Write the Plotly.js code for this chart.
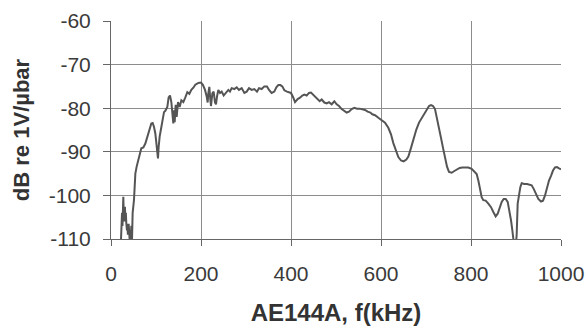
<!DOCTYPE html>
<html>
<head>
<meta charset="utf-8">
<script src="https://cdn.plot.ly/plotly-3.0.1.min.js"></script>
<style>html,body{margin:0;padding:0;background:#fff;}#chart{width:588px;height:326px;}</style>
</head>
<body>
<div id="chart"></div>
<script>
// Frequency (kHz)
var freq = [
  21.5, 22.5, 23.5, 24.5, 25.5, 26.5, 27.4, 28.2, 28.9, 30, 31, 32, 33, 34, 35.5, 36.3, 37.5, 39.3, 40.5, 41.5, 42.5, 43.7, 45.2, 46.5, 48.1,
  51.1, 52.6, 54.1, 57.0, 60.0, 64.4, 67.4, 71.9, 76.3, 80.7, 85.2, 89.6, 92.6, 95.6, 98.5, 100.7, 103, 104.4, 105.9, 108.1,
  111.9, 114.8, 117.8, 120.7, 125.2, 128.1, 131.1, 134.1, 137, 138.5, 140, 141.5, 143.7, 145.9, 148.9, 152.6, 156.3, 160.7,
  165.2, 169.6, 174.1, 178.5, 183, 187.4, 194.1, 200, 204.4, 208.9, 212.6, 214.8, 216.3, 218.5, 220.7, 222.2, 225.2, 228.1,
  231.1, 233.3, 235.6, 238.5, 242.2, 245.9, 250.4, 254.8, 260.7, 264.4, 268.1, 274.1, 279.3, 284.4, 290.4, 296.3, 301.5,
  306.7, 312.6, 318.5, 324.4, 328.9, 334.8, 340.7, 346.7, 351.1, 357, 362.9, 367.4, 371.9, 376.3, 380.7, 385.2, 391.1, 397,
  400, 405.2, 408.9, 414.8, 420, 425.2, 429.6, 434.8, 440, 444.4, 449.6, 454.8, 459.3, 463.7, 468.1, 474.1, 479.3, 484.4,
  490.4, 496.3, 501.5, 506.7, 512.6, 518.5, 523.7, 528.9, 534.8, 540.7, 546.7, 552.6, 558.5, 564.4, 570.4, 576.3, 580.7,
  586.7, 594.1, 601.5, 608.9, 616.3, 622.2, 627.4, 632.6, 638.5, 644.5, 650.4, 656.3, 660.8, 666.7, 672.6, 678.5, 684.5,
  690.4, 696.3, 701.5, 706.7, 711.1, 715.6, 720, 724.5, 728.9, 733.3, 737.8, 742.2, 746.7, 751.1, 757.1, 763, 768.9,
  774.8, 780.7, 786.7, 794.1, 801.5, 807.4, 812.6, 816.3, 820, 823.7, 827.4, 832.6, 838.5, 844.5, 849.6, 854.8, 859.3,
  863.7, 868.2, 872.6, 877.1, 881.5, 885.2, 888.9, 891.9, 894.1, 896.3, 899.3, 901.5, 903.7, 906.7, 909.6, 912.6, 918.5,
  924.5, 930.4, 934.8, 939.3, 943.7, 949.6, 955.6, 960, 964.5, 968.9, 973.3, 977.8, 982.2, 986.7, 991.1, 995.6, 1000
];
// Sensitivity (dB re 1V/µbar)
var sensitivity = [
  -112, -106, -109, -104, -107, -101, -100.3, -104, -103.3, -106, -102.6, -106, -104, -106.4, -108, -106.5, -109, -106.5, -111, -109.4, -112, -110, -107, -111, -104,
  -101, -98.7, -95, -93.4, -91.9, -90.4, -89.2, -89, -88.1, -86.6, -85, -83.5, -83.4, -84.3, -85.8, -87.5, -90.4, -91.5, -88.9, -86.5,
  -84.3, -82, -80.9, -80.6, -79.7, -77.5, -77.1, -78.6, -81.3, -83.5, -80.5, -83.2, -79.2, -82, -78.6, -79.7, -78.2, -78.6,
  -77.5, -76.3, -76.7, -75.8, -75.3, -74.6, -74.2, -74.1, -74.7, -75.8, -77.3, -78.7, -76.6, -75.1, -78, -79.5, -76.6, -76.2,
  -78.7, -79.1, -77.3, -75.8, -76.5, -76.2, -77.1, -76.5, -75.8, -76.2, -75.4, -75.6, -75.2, -75.8, -75.4, -76.5, -76.2,
  -75.4, -75.8, -75.6, -76.2, -75.4, -75.6, -75, -75, -75.8, -76.5, -76.2, -75.2, -74.7, -74.7, -75, -75.9, -76.2, -76.5,
  -76.5, -77.6, -78.6, -77.9, -77.6, -77.1, -76.9, -77.1, -76.5, -76.4, -76.9, -77.6, -77.9, -78.4, -78, -78.7, -78.9, -78.6,
  -79.1, -78.4, -79.1, -79.5, -80.2, -80.6, -81, -80.8, -80.2, -79.9, -80.1, -80.1, -80.2, -80.4, -80.8, -81, -81.4,
  -81.6, -82.2, -82.7, -83.3, -84.5, -86, -88, -89.7, -91.2, -92, -92.2, -91.8, -91.1, -89.1, -86.8, -84.9, -83.3,
  -82.2, -81.4, -80.2, -79.5, -79.3, -79.5, -80.2, -82.2, -84.5, -86.8, -89.1, -91.5, -93.4, -94.6, -94.8, -94.4, -94,
  -93.7, -93.6, -93.6, -93.6, -93.9, -94.5, -95.1, -96.6, -98.5, -100.4, -101.1, -101.2, -101.9, -102.7, -103.8, -104.8, -104.2,
  -102.7, -101.5, -100.8, -100.8, -101.5, -103.4, -105.7, -108, -110, -112, -112, -109, -101.9, -99.2, -98.1, -97.2, -97.4,
  -97.4, -97.5, -97.7, -98.5, -99.6, -100.8, -101.4, -101.2, -100, -98.1, -96.6, -95.5, -94.3, -93.6, -93.5, -93.8, -94
];
var xTicks = [0, 200, 400, 600, 800, 1000];
var yTicks = [-110, -100, -90, -80, -70, -60];

var fam = 'Arial, "Liberation Sans", sans-serif';
var tickFont = {family: fam, size: 21, color: '#3a3a3a'};

Plotly.newPlot('chart', [{
  x: freq, y: sensitivity, type: 'scatter', mode: 'lines',
  line: {color: '#555555', width: 2}, hoverinfo: 'none'
}], {
  width: 588, height: 326,
  margin: {l: 111, r: 27, t: 21, b: 87, pad: 0},
  paper_bgcolor: '#ffffff', plot_bgcolor: '#ffffff',
  showlegend: false,
  xaxis: {
    range: [0, 1000], tickvals: xTicks, ticktext: xTicks.map(String),
    ticks: 'outside', ticklen: 6, tickcolor: '#666666', tickwidth: 1,
    showline: true, linecolor: '#666666', linewidth: 1,
    showgrid: true, gridcolor: '#8c8c8c', gridwidth: 1, zeroline: false,
    tickfont: tickFont, ticklabelstandoff: 10,
    title: {text: 'AE144A, f(kHz)', font: {family: fam, size: 24, color: '#333333', weight: 'bold'}, standoff: 22}
  },
  yaxis: {
    range: [-110, -60], tickvals: yTicks, ticktext: yTicks.map(String),
    ticks: 'outside', ticklen: 7, tickcolor: '#666666', tickwidth: 1,
    showline: true, linecolor: '#666666', linewidth: 1,
    showgrid: true, gridcolor: '#8c8c8c', gridwidth: 1, zeroline: false,
    tickfont: tickFont, ticklabelstandoff: 8,
    title: {text: 'dB re 1V/µbar', font: {family: fam, size: 22, color: '#333333', weight: 'bold'}, standoff: 13}
  }
}, {staticPlot: true, displayModeBar: false});
</script>
</body>
</html>
